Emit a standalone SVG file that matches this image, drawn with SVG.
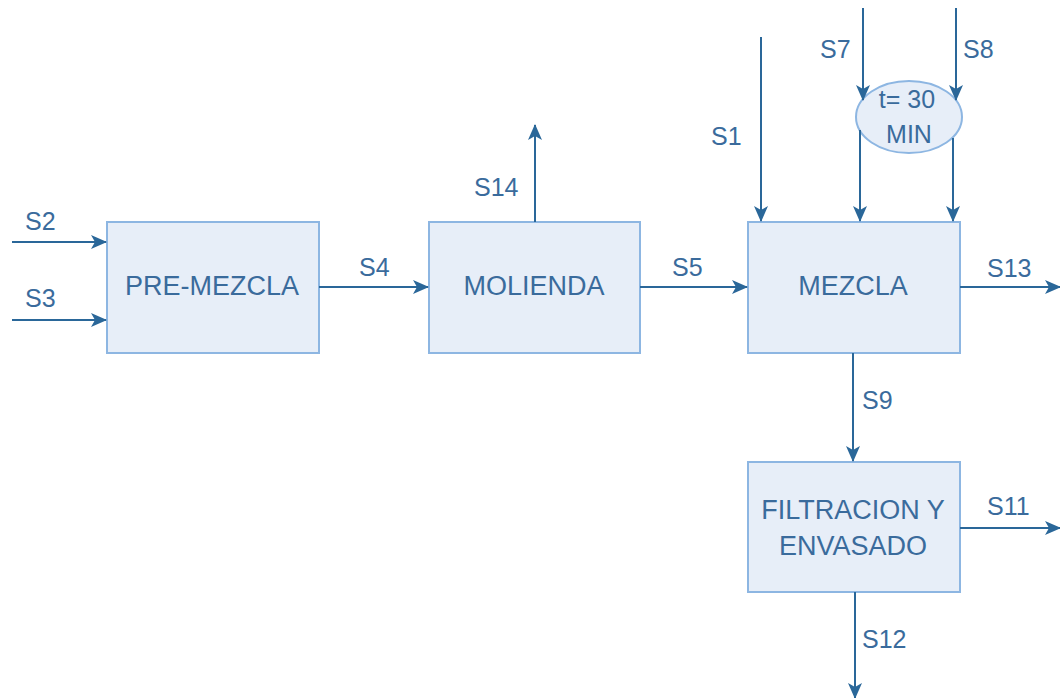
<svg xmlns="http://www.w3.org/2000/svg" width="1060" height="698" viewBox="0 0 1060 698">
<style>
.box{fill:#e7eef8;stroke:#8db6e2;stroke-width:2}
.c{fill:none;stroke:#2a6799;stroke-width:2}
.t{font-family:"Liberation Sans",Arial,sans-serif;font-size:27px;fill:#3a6b9c;text-anchor:middle}
.l{font-family:"Liberation Sans",Arial,sans-serif;font-size:25px;fill:#3a6b9c}
</style>
<defs>
<marker id="a" markerWidth="16" markerHeight="16" viewBox="0 0 16 16" refX="15" refY="8" orient="auto" markerUnits="userSpaceOnUse">
<path d="M0,1 L16,8 L0,15 L4,8 Z" fill="#2a6799"/>
</marker>
</defs>
<rect width="1060" height="698" fill="#ffffff"/>
<g id="premezcla"><rect class="box" x="107" y="222" width="212" height="131"/><text class="t" x="212" y="295">PRE-MEZCLA</text></g>
<g id="molienda"><rect class="box" x="429" y="222" width="211" height="131"/><text class="t" x="534" y="295">MOLIENDA</text></g>
<g id="mezcla"><rect class="box" x="748" y="222" width="212" height="131"/><text class="t" x="853" y="295">MEZCLA</text></g>
<g id="filtracion"><rect class="box" x="748" y="462" width="212" height="130"/><text class="t" x="853" y="519">FILTRACION Y</text><text class="t" x="853" y="555">ENVASADO</text></g>
<g id="tiempo"><ellipse cx="909" cy="117" rx="53" ry="36" fill="#e7eef8" stroke="#8db6e2" stroke-width="2"/><text class="t" x="907" y="108" style="font-size:25px">t= 30</text><text class="t" x="909" y="143" style="font-size:25px">MIN</text></g>
<g id="connectors">
<line class="c" x1="12" y1="242" x2="106" y2="242" marker-end="url(#a)"/>
<line class="c" x1="12" y1="320" x2="106" y2="320" marker-end="url(#a)"/>
<line class="c" x1="319" y1="287" x2="428" y2="287" marker-end="url(#a)"/>
<line class="c" x1="535" y1="222" x2="535" y2="125" marker-end="url(#a)"/>
<line class="c" x1="640" y1="287" x2="747" y2="287" marker-end="url(#a)"/>
<line class="c" x1="960" y1="287" x2="1060" y2="287" marker-end="url(#a)"/>
<line class="c" x1="761" y1="37" x2="761" y2="221" marker-end="url(#a)"/>
<line class="c" x1="863" y1="8" x2="863" y2="100" marker-end="url(#a)"/>
<line class="c" x1="956" y1="8" x2="956" y2="100" marker-end="url(#a)"/>
<line class="c" x1="860" y1="130" x2="860" y2="221" marker-end="url(#a)"/>
<line class="c" x1="953" y1="138" x2="953" y2="221" marker-end="url(#a)"/>
<line class="c" x1="853" y1="353" x2="853" y2="461" marker-end="url(#a)"/>
<line class="c" x1="960" y1="528" x2="1060" y2="528" marker-end="url(#a)"/>
<line class="c" x1="855" y1="592" x2="855" y2="698" marker-end="url(#a)"/>
</g>
<g id="labels">
<text class="l" x="25" y="230">S2</text>
<text class="l" x="25" y="307">S3</text>
<text class="l" x="359" y="276">S4</text>
<text class="l" x="474" y="196">S14</text>
<text class="l" x="672" y="276">S5</text>
<text class="l" x="711" y="145">S1</text>
<text class="l" x="820" y="58">S7</text>
<text class="l" x="963" y="58">S8</text>
<text class="l" x="987" y="277">S13</text>
<text class="l" x="862" y="409">S9</text>
<text class="l" x="987" y="515">S11</text>
<text class="l" x="862" y="648">S12</text>
</g>
</svg>
